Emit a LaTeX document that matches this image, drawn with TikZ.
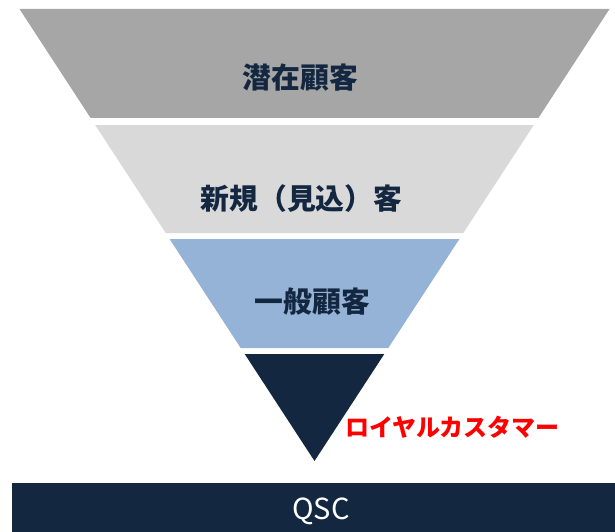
\documentclass[tikz,border=0pt]{standalone}
\usepackage{fontspec}
\setmainfont{Noto Sans CJK JP}
\definecolor{navy}{HTML}{132741}
\definecolor{band1}{HTML}{A6A6A6}
\definecolor{band2}{HTML}{D9D9D9}
\definecolor{band3}{HTML}{95B3D7}
\definecolor{loyal}{HTML}{FF0000}
\tikzset{
  lbl/.style={font=\fontsize{28.8}{32}\selectfont\bfseries, text=navy, inner sep=0pt},
  band/.style={draw=none}
}
\begin{document}
\begin{tikzpicture}[x=1pt,y=-1pt]
\useasboundingbox (0,0) rectangle (615,532);
% funnel bands
\fill[band1] (19.5,9) -- (609.5,9) -- (538.4,118) -- (90.6,118) -- cycle;
\fill[band2] (95.2,125) -- (533.8,125) -- (463.3,233) -- (165.7,233) -- cycle;
\fill[band3] (169.6,239) -- (459.4,239) -- (388.3,348) -- (240.7,348) -- cycle;
\fill[navy] (244.7,354) -- (384.3,354) -- (314.5,461) -- cycle;
% base bar
\fill[navy] (12,483) rectangle (615,532);
% labels
\node[lbl] (l1) at (300.5,78) {潜在顧客};
\node[lbl] (l2) at (301.5,199) {新規（見込）客};
\node[lbl] (l3) at (312.5,302) {一般顧客};
\node[font=\fontsize{24}{28}\selectfont\bfseries, text=loyal, inner sep=0pt] (l4) at (452.5,427) {ロイヤルカスタマー};
\node[font=\fontsize{29}{33}\selectfont, text=white, inner sep=0pt] (qsc) at (321,511) {QSC};
\end{tikzpicture}
\end{document}
